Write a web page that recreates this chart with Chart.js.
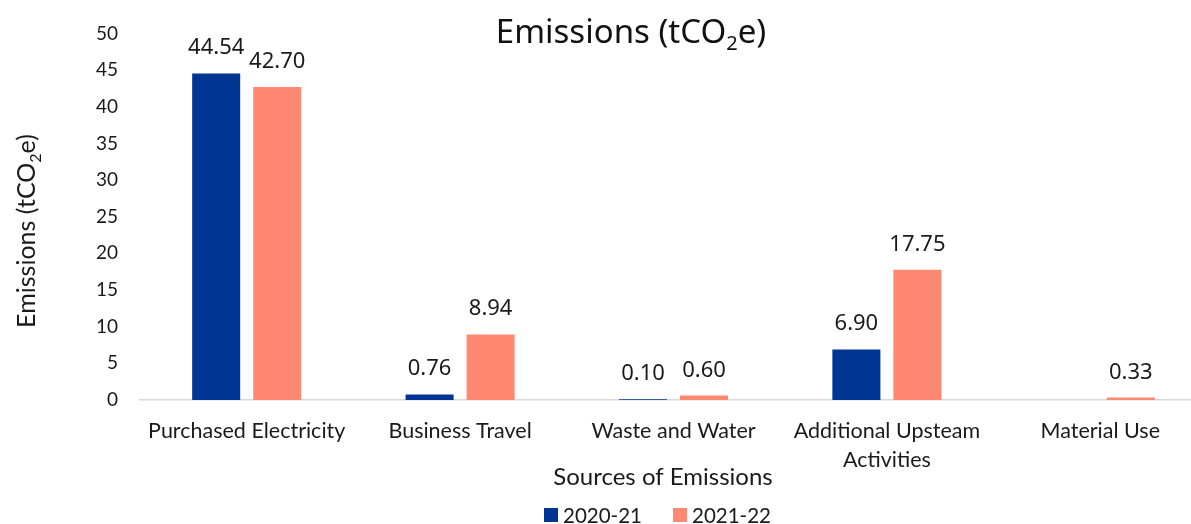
<!DOCTYPE html>
<html>
<head>
<meta charset="utf-8">
<title>Emissions (tCO2e)</title>
<script src="https://cdn.jsdelivr.net/npm/chart.js@4.4.1/dist/chart.umd.min.js"></script>
<style>
  html, body { margin: 0; padding: 0; background: #ffffff; overflow: hidden; }
  #wrap { position: relative; width: 1207px; height: 524px; }
</style>
</head>
<body>
<div id="wrap"><canvas id="chart"></canvas></div>
<script>
// Emission sources and the two reporting years
const categories = [
  'Purchased Electricity',
  'Business Travel',
  'Waste and Water',
  ['Additional Upsteam', 'Activities'],
  'Material Use'
];
const seriesNames = ['2020-21', '2021-22'];
const values2020 = [44.54, 0.76, 0.10, 6.90, null];
const values2021 = [42.70, 8.94, 0.60, 17.75, 0.33];
const yTicks = [0, 5, 10, 15, 20, 25, 30, 35, 40, 45, 50];

const BLUE = '#003594';
const PINK = '#FF8873';
const TEXT = '#1a1a1a';
const CALIBRI_LIKE = 'Lato, "Open Sans", sans-serif';
const PLEX_LIKE = '"Noto Sans", "Open Sans", sans-serif';

// Draws "Emissions (tCO₂e)" with a real lowered, smaller "2"
function drawCO2Text(ctx, cx, baseY, size, family) {
  const parts = [['Emissions (tCO', size, 0], ['2', Math.round(size * 0.62), size * 0.22], ['e)', size, 0]];
  let total = 0;
  const widths = parts.map(([t, s]) => {
    ctx.font = s + 'px ' + family;
    const w = ctx.measureText(t).width;
    total += w;
    return w;
  });
  let x = cx - total / 2;
  ctx.textAlign = 'left';
  ctx.textBaseline = 'alphabetic';
  parts.forEach(([t, s, dy], i) => {
    ctx.font = s + 'px ' + family;
    ctx.fillText(t, x, baseY + dy);
    x += widths[i];
  });
}

const decorations = {
  id: 'decorations',
  afterDatasetsDraw(chart) {
    const ctx = chart.ctx;
    ctx.save();
    ctx.fillStyle = TEXT;

    // value labels above each bar
    ctx.font = '22px ' + PLEX_LIKE;
    ctx.textAlign = 'center';
    ctx.textBaseline = 'alphabetic';
    chart.data.datasets.forEach((ds, di) => {
      const meta = chart.getDatasetMeta(di);
      meta.data.forEach((bar, i) => {
        const v = ds.data[i];
        if (v === null || v === undefined) return;
        ctx.fillText(v.toFixed(2), bar.x, bar.y - 19);
      });
    });

    // chart title
    ctx.fillStyle = '#111111';
    drawCO2Text(ctx, 631, 43, 33, PLEX_LIKE);

    // y axis title, rotated
    ctx.fillStyle = TEXT;
    ctx.save();
    ctx.translate(35, 231);
    ctx.rotate(-Math.PI / 2);
    drawCO2Text(ctx, 0, 0, 25, CALIBRI_LIKE);
    ctx.restore();

    // x axis title
    ctx.font = '24px ' + CALIBRI_LIKE;
    ctx.textAlign = 'center';
    ctx.textBaseline = 'alphabetic';
    ctx.fillText('Sources of Emissions', 663, 485);

    // legend
    const legendX = [544, 673];
    const colors = [BLUE, PINK];
    ctx.font = '20.5px ' + CALIBRI_LIKE;
    ctx.textAlign = 'left';
    ctx.textBaseline = 'middle';
    seriesNames.forEach((name, i) => {
      ctx.fillStyle = colors[i];
      ctx.fillRect(legendX[i], 508, 14, 14);
      ctx.fillStyle = TEXT;
      ctx.fillText(name, legendX[i] + 19, 516);
    });
    ctx.restore();
  }
};

new Chart(document.getElementById('chart'), {
  type: 'bar',
  data: {
    labels: categories,
    datasets: [
      { label: seriesNames[0], data: values2020, backgroundColor: BLUE, borderWidth: 0,
        categoryPercentage: 0.572, barPercentage: 0.787 },
      { label: seriesNames[1], data: values2021, backgroundColor: PINK, borderWidth: 0,
        categoryPercentage: 0.572, barPercentage: 0.787 }
    ]
  },
  options: {
    responsive: true,
    maintainAspectRatio: false,
    animation: false,
    layout: { padding: { top: 32, right: 0, bottom: 0, left: 0 } },
    plugins: {
      legend: { display: false },
      title: { display: false },
      tooltip: { enabled: false }
    },
    scales: {
      x: {
        grid: { display: false, drawTicks: false },
        border: { display: true, color: '#d9d9d9', width: 1.5 },
        ticks: {
          color: TEXT,
          padding: 17,
          maxRotation: 0,
          autoSkip: false,
          font: { family: CALIBRI_LIKE, size: 21.5, lineHeight: '29px' }
        },
        afterFit(scale) { scale.height = 124; }
      },
      y: {
        min: 0,
        max: 50,
        afterBuildTicks(scale) { scale.ticks = yTicks.map(v => ({ value: v })); },
        grid: { display: false, drawTicks: false },
        border: { display: false },
        ticks: {
          color: TEXT,
          padding: 22,
          font: { family: CALIBRI_LIKE, size: 19 }
        },
        afterFit(scale) { scale.width = 140; }
      }
    }
  },
  plugins: [decorations]
});
</script>
</body>
</html>
